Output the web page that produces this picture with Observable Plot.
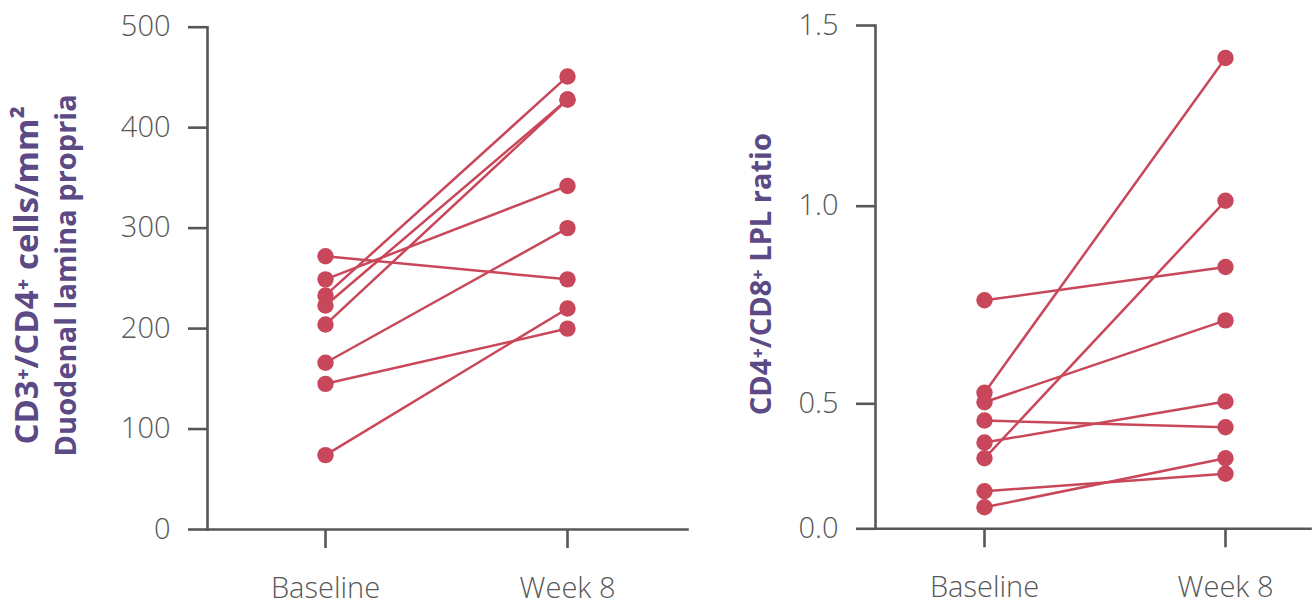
<!DOCTYPE html>
<html>
<head>
<meta charset="utf-8">
<script src="https://cdn.jsdelivr.net/npm/d3@7"></script>
<script src="https://cdn.jsdelivr.net/npm/@observablehq/plot@0.6"></script>
<style>
  html, body { margin: 0; padding: 0; background: #fff; }
  #wrap { position: relative; width: 1313px; height: 605px; overflow: hidden; }
  #left, #right { position: absolute; top: 0; }
  #left { left: 0; }
  #right { left: 700px; }
</style>
</head>
<body>
<div id="wrap"><div id="left"></div><div id="right"></div></div>
<script>
// ---- data ----
const timepoints = ["Baseline", "Week 8"];

// CD3+/CD4+ cells/mm2, duodenal lamina propria (paired by subject index)
const cd3Baseline = [272, 249, 233, 223, 204, 166, 145, 74];
const cd3Week8    = [249, 342, 451, 428, 428, 300, 200, 220];
const cd3Ticks    = [0, 100, 200, 300, 400, 500];

// CD4+/CD8+ LPL ratio (paired by subject index)
const ratioBaseline = [0.762, 0.528, 0.504, 0.433, 0.345, 0.282, 0.150, 0.086];
const ratioWeek8    = [0.846, 1.410, 0.711, 0.406, 0.506, 1.015, 0.220, 0.282];
const ratioTicks    = [0.0, 0.5, 1.0, 1.5];

const leftTitle  = ["CD3⁺/CD4⁺ cells/mm²", "Duodenal lamina propria"];
const rightTitle = "CD4⁺/CD8⁺ LPL ratio";

// ---- styles ----
const RED = "#c9475a";
const AXIS = "#575757";
const PURPLE = "#5b4a85";
const FONT = "'Open Sans', 'Noto Sans', sans-serif";

function pairs(base, week) {
  const rows = [];
  base.forEach((v, i) => {
    rows.push({subject: i, time: timepoints[0], value: v});
    rows.push({subject: i, time: timepoints[1], value: week[i]});
  });
  return rows;
}

function panel({rows, width, marginLeft, marginRight, xRange, yDomain, yRange, yTicks, yFormat, titles}) {
  const marks = [
    Plot.frame({anchor: "left", stroke: AXIS, strokeWidth: 2.6}),
    Plot.frame({anchor: "bottom", stroke: AXIS, strokeWidth: 2.6}),
    Plot.axisY({ticks: yTicks, tickFormat: yFormat, tickSize: 19, tickPadding: 18, fontSize: 29, fontWeight: 300,
                color: AXIS, strokeWidth: 2.6, label: null}),
    Plot.axisX({tickSize: 19, tickPadding: 29, fontSize: 29, fontWeight: 300, color: AXIS, strokeWidth: 2.6, label: null}),
    Plot.line(rows, {x: "time", y: "value", z: "subject", stroke: RED, strokeWidth: 2.5}),
    Plot.dot(rows, {x: "time", y: "value", r: 8.2, fill: RED, stroke: "none"})
  ];
  titles.forEach(t => {
    marks.push(Plot.text([t.text], {
      text: d => d, frameAnchor: "left", rotate: -90, textAnchor: "middle", lineAnchor: "bottom",
      dx: t.dx, dy: -3, fill: PURPLE, fontWeight: "bold", fontSize: t.size
    }));
  });
  return Plot.plot({
    width, height: 605,
    marginLeft, marginRight, marginTop: yRange[yRange.length - 1], marginBottom: 605 - yRange[0],
    style: {fontFamily: FONT, background: "transparent", overflow: "visible"},
    x: {type: "point", domain: timepoints, range: xRange, padding: 0},
    y: {type: "linear", domain: yDomain, range: yRange},
    marks
  });
}

document.getElementById("left").append(panel({
  rows: pairs(cd3Baseline, cd3Week8),
  width: 700, marginLeft: 207, marginRight: 13,
  xRange: [324.5, 567],
  yDomain: [0, 500], yRange: [529, 26.7],
  yTicks: cd3Ticks, yFormat: d3.format("d"),
  titles: [{text: leftTitle[0], dx: -170, size: 33}, {text: leftTitle[1], dx: -132, size: 29}]
}));

// the right chart's printed axis is not evenly spaced; reproduce it piecewise
document.getElementById("right").append(panel({
  rows: pairs(ratioBaseline, ratioWeek8),
  width: 613, marginLeft: 175, marginRight: 3,
  xRange: [284, 525.5],
  yDomain: ratioTicks, yRange: [528.3, 403.3, 205.7, 25],
  yTicks: ratioTicks, yFormat: d3.format(".1f"),
  titles: [{text: rightTitle, dx: -105, size: 29}]
}));
</script>
</body>
</html>
